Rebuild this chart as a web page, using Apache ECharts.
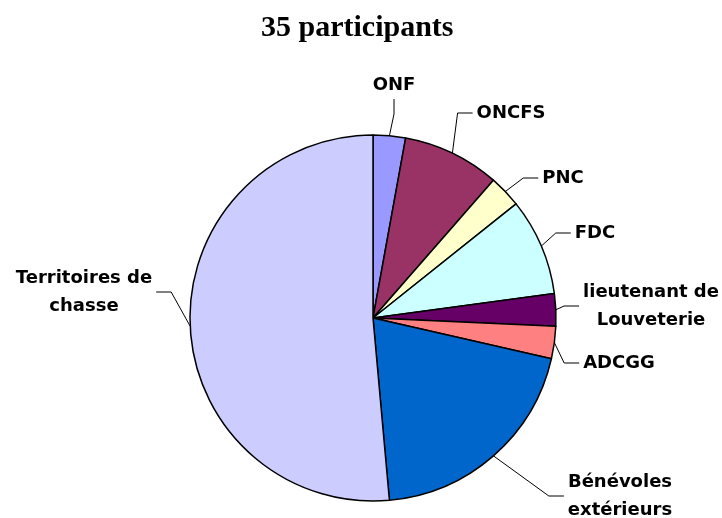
<!DOCTYPE html>
<html>
<head>
<meta charset="utf-8">
<script src="https://cdn.jsdelivr.net/npm/echarts@6/dist/echarts.min.js"></script>
<style>
  html, body { margin: 0; padding: 0; background: #fff; }
  #chart { width: 722px; height: 518px; }
</style>
</head>
<body>
<div id="chart"></div>
<script>
// participants by structure (35 total)
const categories = ['ONF', 'ONCFS', 'PNC', 'FDC', 'lieutenant de\nLouveterie', 'ADCGG', 'Bénévoles\nextérieurs', 'Territoires de\nchasse'];
const participants = [1, 3, 1, 3, 1, 1, 7, 18];
const sliceColors = ['#9999FF', '#993366', '#FFFFCC', '#CCFFFF', '#660066', '#FF8080', '#0066CC', '#CCCCFF'];

// where each label sits (text centre)
const labelX = [394, 511, 563, 595, 651, 619, 620, 84];
const labelY = [85, 113, 178, 233, 306, 363, 496, 292];

const chart = echarts.init(document.getElementById('chart'));

const option = {
    animation: false,
    title: {
        text: '35 participants',
        left: 256,
        top: 8,
        textStyle: {
            fontFamily: 'Liberation Serif',
            fontWeight: 'bold',
            fontSize: 30,
            color: '#000'
        }
    },
    series: [{
        type: 'pie',
        center: [373, 318],
        radius: 183,
        startAngle: 90,
        clockwise: true,
        avoidLabelOverlap: false,
        data: categories.map((name, i) => ({
            name: name,
            value: participants[i],
            itemStyle: { color: sliceColors[i] }
        })),
        itemStyle: { borderColor: '#000', borderWidth: 1.5 },
        label: {
            show: true,
            position: 'outside',
            formatter: '{b}',
            fontFamily: 'DejaVu Sans',
            fontWeight: 'bold',
            fontSize: 18,
            lineHeight: 28,
            color: '#000',
            align: 'center',
            padding: [0, 4]
        },
        labelLine: {
            show: true,
            length: 20,
            length2: 15,
            lineStyle: { color: '#000', width: 1 }
        },
        labelLayout: function (params) {
            const i = params.dataIndex;
            return {
                x: labelX[i],
                y: labelY[i],
                align: 'center',
                verticalAlign: 'middle'
            };
        },
        emphasis: { disabled: true }
    }]
};

chart.setOption(option);
</script>
</body>
</html>
